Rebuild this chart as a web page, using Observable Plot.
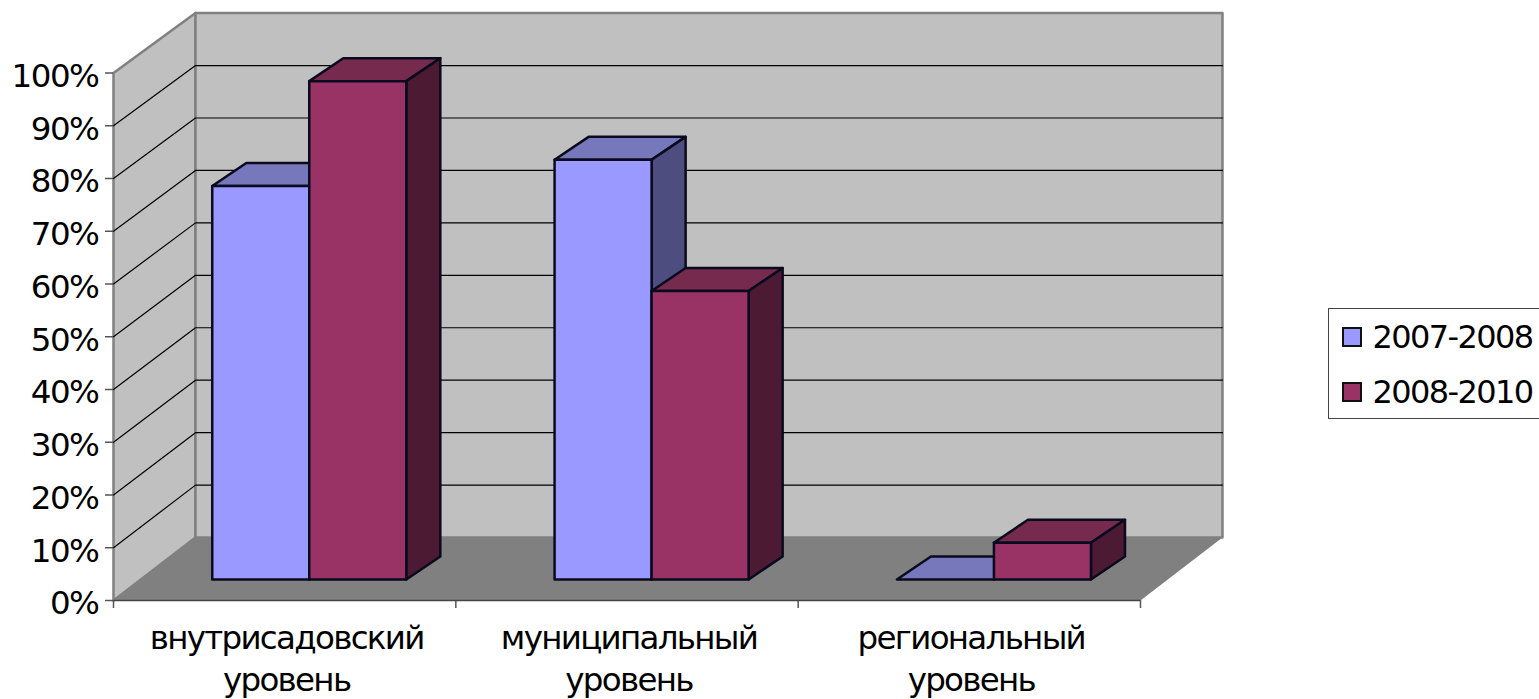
<!DOCTYPE html>
<html lang="ru">
<head>
<meta charset="utf-8">
<script src="https://cdn.jsdelivr.net/npm/d3@7"></script>
<script src="https://cdn.jsdelivr.net/npm/@observablehq/plot@0.6"></script>
<style>
html,body{margin:0;padding:0;background:#fff;overflow:hidden;}
#wrap{position:relative;width:1539px;height:699px;font-family:"DejaVu Sans",sans-serif;}
#legend{position:absolute;left:1328px;top:308px;width:211px;height:111px;box-sizing:border-box;border:1.5px solid #444;border-right:none;background:#fff;font-size:32px;letter-spacing:-1.6px;color:#000;}
#legend div{display:flex;align-items:center;height:55px;white-space:nowrap;padding-left:12.5px;}
#legend i{display:inline-block;width:20px;height:20px;box-sizing:border-box;border:2px solid #111;margin-right:11px;flex:none;}
svg text{font-family:"DejaVu Sans",sans-serif;}
</style>
</head>
<body>
<div id="wrap"></div>
<script>
const categories = ["внутрисадовский\nуровень", "муниципальный\nуровень", "региональный\nуровень"];
const seriesNames = ["2007-2008", "2008-2010"];
const values2007 = [75, 80, 0];
const values2010 = [95, 55, 7];
const yTicks = [0, 10, 20, 30, 40, 50, 60, 70, 80, 90, 100];
const xTicks = [0, 1, 2, 3];
const faceColors = [
  {front: "#9999ff", top: "#7777bb", side: "#4d4d80"},
  {front: "#993366", top: "#752a4e", side: "#4d1a33"}
];

// oblique projection: (x, v) at depth dx / dy (0 = front plane, 1 = back wall)
const depthX = 0.2395, depthY = 11.93, shrink = 0.9943;
const P = (x, v, dx, dy = dx) => ({x: x + dx * depthX, y: v * (dy > 0 ? shrink : 1) + dy * depthY});
const nearX = 0.30, farX = 0.715, nearY = 0.335, farY = 0.70, barW = 0.2834;
const slot0 = (1 - 2 * barW) / 2;

const walls = [];
const addPoly = (arr, id, color, stroke, pts) => pts.forEach(p => arr.push({id, color, stroke, ...p}));
addPoly(walls, "left", "#c0c0c0", "#808080", [P(0,0,0), P(0,100,0), P(0,100,1), P(0,0,1)]);
addPoly(walls, "back", "#c0c0c0", "#808080", [P(0,0,1), P(0,100,1), P(3,100,1), P(3,0,1)]);
const floor = [];
addPoly(floor, "floor", "#808080", "#808080", [P(0,0,0), P(0,0,1), P(3,0,1), P(3,0,0)]);

const grid = [];
yTicks.filter(v => v > 0 && v < 100).forEach(v => {
  grid.push({id: v, ...P(0, v, 0)}, {id: v, ...P(0, v, 1)}, {id: v, ...P(3, v, 1)});
});

const faces = [];
categories.forEach((c, i) => {
  [values2007[i], values2010[i]].forEach((v, s) => {
    const x0 = i + slot0 + s * barW, x1 = x0 + barW, col = faceColors[s], k = `${i}-${s}`;
    addPoly(faces, k + "top", col.top, "#0a0a1e", [P(x0,v,nearX,nearY), P(x1,v,nearX,nearY), P(x1,v,farX,farY), P(x0,v,farX,farY)]);
    if (v > 0) {
      addPoly(faces, k + "side", col.side, "#0a0a1e", [P(x1,0,nearX,nearY), P(x1,v,nearX,nearY), P(x1,v,farX,farY), P(x1,0,farX,farY)]);
      addPoly(faces, k + "front", col.front, "#0a0a1e", [P(x0,0,nearX,nearY), P(x0,v,nearX,nearY), P(x1,v,nearX,nearY), P(x1,0,nearX,nearY)]);
    }
  });
});

const labels = categories.map((t, i) => ({x: i + 0.5, t}));

const chart = Plot.plot({
  width: 1320, height: 699,
  marginLeft: 113, marginRight: 180, marginTop: 12, marginBottom: 99,
  style: {background: "transparent", overflow: "visible"},
  x: {domain: [0, 3], range: [113, 1140], label: null},
  y: {domain: [0, 100], range: [600, 72.5], label: null},
  marks: [
    Plot.line(walls, {x: "x", y: "y", z: "id", fill: "color", stroke: "stroke", strokeWidth: 2.5, curve: "linear-closed"}),
    Plot.line(grid, {x: "x", y: "y", z: "id", stroke: "#000", strokeWidth: 1.2}),
    Plot.line(floor, {x: "x", y: "y", z: "id", fill: "color", curve: "linear-closed"}),
    Plot.line(faces, {x: "x", y: "y", z: "id", fill: "color", stroke: "stroke", strokeWidth: 2.5, strokeLinejoin: "round", curve: "linear-closed"}),
    Plot.axisY({ticks: yTicks, tickFormat: () => "", tickSize: 8, stroke: "#555", strokeWidth: 1.5, label: null}),
    Plot.axisY({ticks: yTicks, tickFormat: d => d + "%", tickSize: 0, tickPadding: 15, dy: 3.5, fontSize: 32.5, fill: "#000", label: null}),
    Plot.axisX({ticks: xTicks, tickFormat: () => "", tickSize: 8, stroke: "#555", strokeWidth: 1.5, label: null}),
    Plot.ruleY([0], {stroke: "#444", strokeWidth: 1.5}),
    Plot.text(labels, {x: "x", text: "t", frameAnchor: "bottom", lineAnchor: "top", dy: 18, dx: 2, fontSize: 32.5, lineHeight: 1.3, fill: "#000", textAnchor: "middle"})
  ]
});
chart.querySelectorAll("g[aria-label='text'] text").forEach(t => t.style.letterSpacing = "-1.7px");
chart.querySelectorAll("g[aria-label='y-axis tick label'] text").forEach(t => t.style.letterSpacing = "-1.5px");

const wrap = document.getElementById("wrap");
wrap.appendChild(chart);
const legend = document.createElement("div");
legend.id = "legend";
seriesNames.forEach((n, i) => {
  const row = document.createElement("div");
  const sw = document.createElement("i");
  sw.style.background = faceColors[i].front;
  row.appendChild(sw);
  row.appendChild(document.createTextNode(n));
  legend.appendChild(row);
});
wrap.appendChild(legend);
</script>
</body>
</html>
